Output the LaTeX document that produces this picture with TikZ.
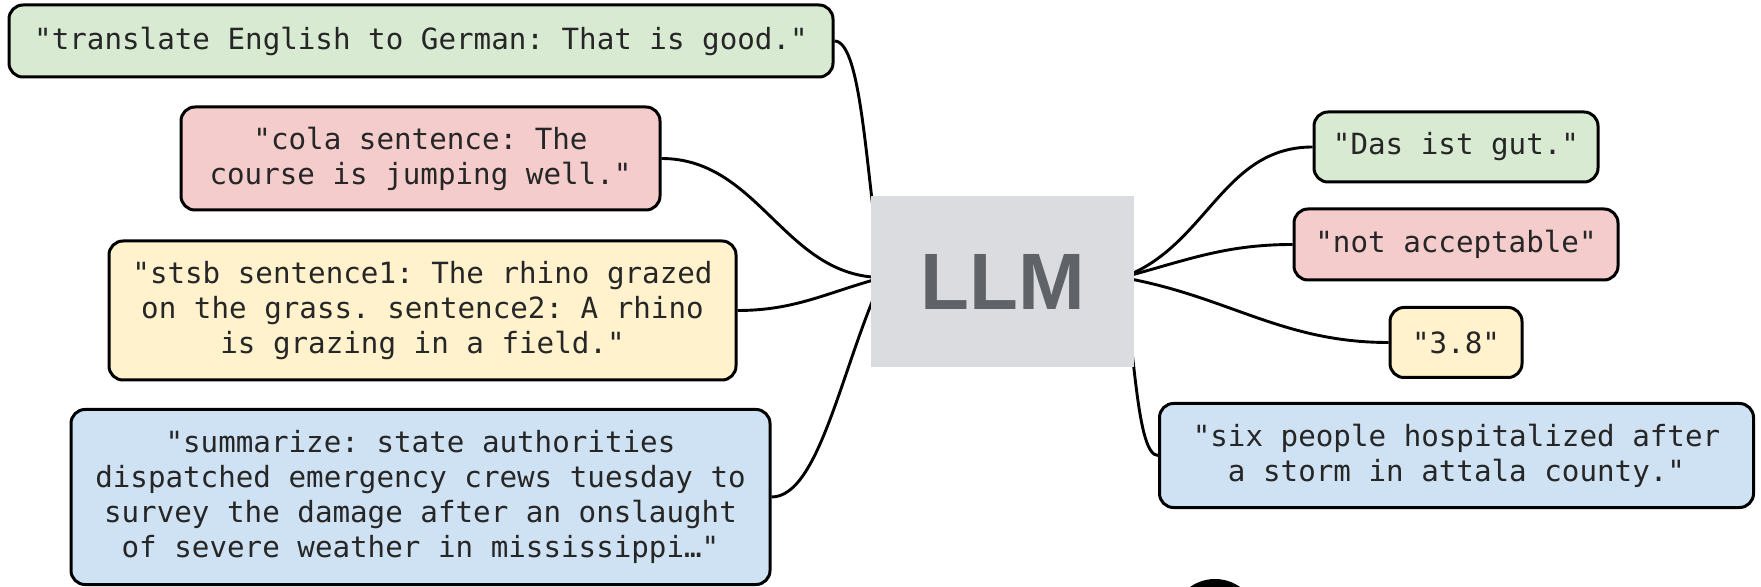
\documentclass[tikz,border=0pt]{standalone}
\usepackage{xcolor}
\usepackage{fontspec}
\setmonofont{DejaVu Sans Mono}
\newfontfamily\llmfont{Liberation Sans}
\usetikzlibrary{backgrounds}
\definecolor{tgreen}{HTML}{D9EAD3}
\definecolor{tred}{HTML}{F4CCCC}
\definecolor{tyellow}{HTML}{FFF2CC}
\definecolor{tblue}{HTML}{CFE2F3}
\definecolor{lgray}{HTML}{DADCE0}
\definecolor{dgray}{HTML}{5F6368}
\newcommand\txt{\ttfamily\fontsize{14.6}{17.5}\selectfont}
\tikzstyle{task}=[draw=black,line width=1.5pt,rounded corners=7pt,align=center,inner sep=0pt,text=black!85,font=\txt]
\tikzstyle{model}=[fill=lgray,minimum width=131.5pt,minimum height=85.5pt,text=dgray,font=\llmfont\bfseries\fontsize{40}{40}\selectfont]
\tikzstyle{wire}=[line width=1.45pt]

\begin{document}
\begin{tikzpicture}[x=0.5pt,y=-0.5pt]
	\useasboundingbox (0,0) rectangle (1761,587);
	\node[model] (llm) at (1002.5,281.5) {LLM};
	\node[task,fill=tgreen, minimum width=412pt,  minimum height=36pt]   (transl) at (421,41)     {"translate English to German: That is good."};
	\node[task,fill=tred,   minimum width=239.5pt,minimum height=51.5pt] (cola)   at (420.5,158.5) {"cola sentence: The\\course is jumping well."};
	\node[task,fill=tyellow,minimum width=313.5pt,minimum height=69.5pt] (stsb)   at (422.5,310.5) {"stsb sentence1: The rhino grazed\\on the grass. sentence2: A rhino\\is grazing in a field."};
	\node[task,fill=tblue,  minimum width=349.5pt,minimum height=87.5pt] (summ)   at (420.5,497)   {"summarize: state authorities\\dispatched emergency crews tuesday to\\survey the damage after an onslaught\\of severe weather in mississippi…"};
	\node[task,fill=tgreen, minimum width=142pt,  minimum height=35pt]   (de)     at (1456,147)    {"Das ist gut."};
	\node[task,fill=tred,   minimum width=162pt,  minimum height=35.5pt] (accept) at (1456,244.5)  {"not acceptable"};
	\node[task,fill=tyellow,minimum width=66pt,   minimum height=35pt]   (score)  at (1456,342.5)  {"3.8"};
	\node[task,fill=tblue,  minimum width=297pt,  minimum height=52pt]   (short)  at (1456.5,455.5) {"six people hospitalized after\\a storm in attala county."};
	\coordinate (hubL) at ([xshift=6pt,yshift=2pt]llm.west);
	\coordinate (hubR) at ([xshift=-6pt,yshift=2pt]llm.east);
	\begin{scope}[on background layer]
	\draw[wire] (transl.east) to[out=0,in=100,out looseness=0.3] (hubL);
	\draw[wire] (cola.east) to[out=0,in=180] (hubL);
	\draw[wire] (stsb.east) to[out=0,in=195] (hubL);
	\draw[wire] (summ.east) to[out=0,in=245,out looseness=0.5] (hubL);
	\draw[wire] (hubR) to[out=20,in=180] (de.west);
	\draw[wire] (hubR) to[out=15,in=180] (accept.west);
	\draw[wire] (hubR) to[out=-10,in=180] (score.west);
	\draw[wire] (hubR) to[out=-80,in=180,in looseness=0.3] (short.west);
	\end{scope}
	\fill (1215,622) circle[radius=21.5pt];
\end{tikzpicture}
\end{document}
